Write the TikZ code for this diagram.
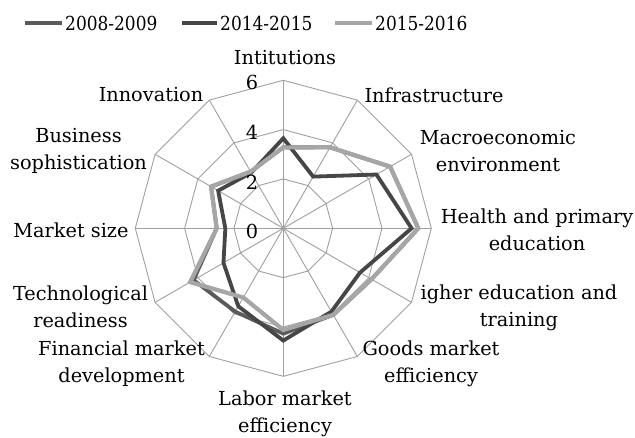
\documentclass[tikz,border=0pt]{standalone}
\usepackage{fontspec}
\setmainfont{DejaVu Serif}
\newfontfamily\legfont[FakeStretch=0.88]{DejaVu Serif}
\definecolor{gridc}{RGB}{160,160,160}
\definecolor{sA}{RGB}{90,90,90}
\definecolor{sB}{RGB}{70,70,70}
\definecolor{sC}{RGB}{166,166,166}
\begin{document}
\begin{tikzpicture}[x=1pt,y=-1pt,
  lab/.style={font=\fontsize{19.3}{27}\selectfont, align=center, inner sep=0pt},
  leg/.style={font=\legfont\fontsize{19.3}{22}\selectfont, inner sep=0pt},
  gridline/.style={draw=gridc, line width=0.9pt},
  serA/.style={draw=sA, line width=3.8pt, line join=miter},
  serB/.style={draw=sB, line width=3.8pt, line join=miter},
  serC/.style={draw=sC, line width=4.2pt, line join=miter}]
\useasboundingbox (0,0) rectangle (635,437);
\fill[white] (0,0) rectangle (635,437);
\def\u{24.67}
\begin{scope}[shift={(283.3,228.3)}]
  % rings
  \foreach \r in {2,4,6}{
    \draw[gridline] (-90:{\r*\u})
      \foreach \k in {1,...,11}{ -- ({-90+30*\k}:{\r*\u}) } -- cycle;
  }
  % spokes
  \coordinate (c) at (0,0);
  \foreach \k in {0,...,11}{
    \coordinate (v\k) at ({-90+30*\k}:{6*\u});
    \draw[gridline] (c) -- (v\k);
  }
  % series 2008-2009
  \draw[serA] \foreach[count=\k from 0] \v in {3.28,3.79,5.0,5.47,4.13,4.05,4.27,3.9,4.2,2.7,3.38,2.65}{
      \ifnum\k=0 (-90:{\v*\u}) \else -- ({-90+30*\k}:{\v*\u}) \fi } -- cycle;
  % series 2014-2015
  \draw[serB] \foreach[count=\k from 0] \v in {3.65,2.42,4.36,5.2,3.59,3.9,4.55,3.65,2.8,2.35,3.05,2.6}{
      \ifnum\k=0 (-90:{\v*\u}) \else -- ({-90+30*\k}:{\v*\u}) \fi } -- cycle;
  % series 2015-2016
  \draw[serC] \foreach[count=\k from 0] \v in {3.28,3.79,5.0,5.47,4.13,4.05,4.12,3.24,4.36,2.7,3.38,2.65}{
      \ifnum\k=0 (-90:{\v*\u}) \else -- ({-90+30*\k}:{\v*\u}) \fi } -- cycle;
\end{scope}
% axis value labels
\node[lab] (t0) at (252,231) {0};
\node[lab] (t2) at (252,182) {2};
\node[lab] (t4) at (252,132) {4};
\node[lab] (t6) at (252,82) {6};
% category labels
\node[lab] (l0) at (285,58) {Intitutions};
\node[lab] (l1) at (434,95) {Infrastructure};
\node[lab] (l2) at (498,151) {Macroeconomic\\environment};
\node[lab] (l3) at (537,230) {Health and primary\\education};
\node[lab] (l4) at (519,307.5) {igher education and\\training};
\node[lab] (l5) at (431,363.5) {Goods market\\efficiency};
\node[lab] (l6) at (285,413.5) {Labor market\\efficiency};
\node[lab] (l7) at (121.5,363.5) {Financial market\\development};
\node[lab] (l8) at (80.5,307) {Technological\\readiness};
\node[lab] (l9) at (71,230) {Market size};
\node[lab] (l10) at (78.5,151) {Business\\sophistication};
\node[lab] (l11) at (151,95) {Innovation};
% legend
\coordinate (a1) at (25,23); \coordinate (a2) at (62,23);
\coordinate (b1) at (182,23); \coordinate (b2) at (217,23);
\coordinate (d1) at (335,23); \coordinate (d2) at (372,23);
\draw[serA] (a1) -- (a2);
\draw[serB] (b1) -- (b2);
\draw[serC] (d1) -- (d2);
\node[leg, anchor=west] (g1) at (65,23) {2008-2009};
\node[leg, anchor=west] (g2) at (220,23) {2014-2015};
\node[leg, anchor=west] (g3) at (375,23) {2015-2016};
\end{tikzpicture}
\end{document}
